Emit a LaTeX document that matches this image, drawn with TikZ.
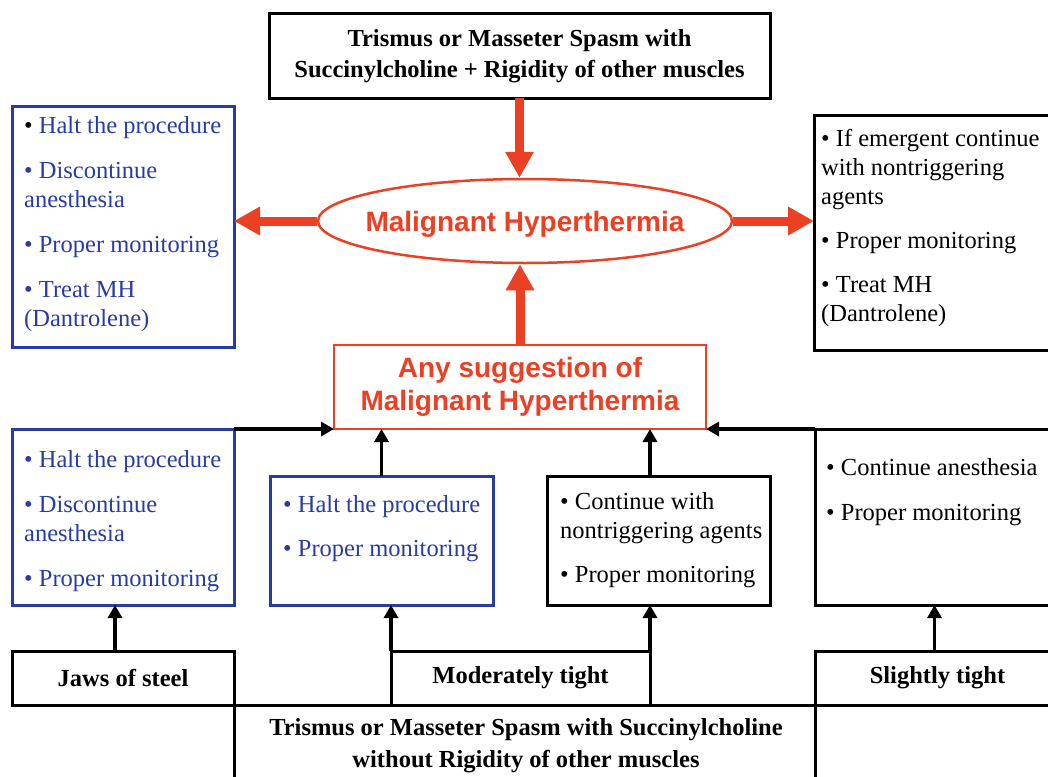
\documentclass[tikz,border=0pt]{standalone}
\usepackage{fontspec}
\setmainfont{Liberation Serif}
\newfontfamily\arialf{Liberation Sans}
\usetikzlibrary{shapes.geometric,arrows.meta}
\definecolor{mhblue}{RGB}{40,60,165}
\definecolor{mhred}{RGB}{236,64,36}
\newcommand\fstrut{\rule{0pt}{20pt}}
\begin{document}
\begin{tikzpicture}[x=1pt,y=-1pt,
  bx/.style={draw, line width=3pt, inner sep=0pt, outer sep=0pt, anchor=north west},
  bbox/.style={bx, draw=black},
  blbox/.style={bx, draw=mhblue},
  boldlab/.style={font=\bfseries\fontsize{24.5}{31}\selectfont, align=center},
  lst/.style={anchor=north west, inner sep=0pt, align=left, font=\fontsize{24.5}{29}\selectfont},
  bluelst/.style={lst, text=mhblue},
  redtxt/.style={text=mhred, font=\arialf\bfseries\fontsize{28}{33}\selectfont, align=center},
  redarr/.style={draw=mhred, line width=9pt, -{Triangle[length=26pt,width=27pt]}},
  blkarr/.style={draw=black, line width=3.5pt, -{Triangle[length=13pt,width=14pt]}}
]
\useasboundingbox (0,0) rectangle (1048,776);
\fill[white] (0,0) rectangle (1048,776);
\clip (0,0) rectangle (1048,776);

% top row
\node[bbox, boldlab, minimum width=501pt, minimum height=84pt] (T) at (269,14)
  {Trismus or Masseter Spasm with\\Succinylcholine + Rigidity of other muscles};
\node[draw=mhred, line width=2.5pt, ellipse, minimum width=414pt, minimum height=84pt, inner sep=0pt] (E) at (525,221) {};
\node[redtxt, text depth=0pt, inner sep=0pt] (Et) at (E.center) {Malignant Hyperthermia};

\node[blbox, minimum width=222pt, minimum height=241pt] (LT) at (12,106) {};
\node[bluelst] (LTt) at (24,113)
  {\fstrut\textcolor{black}{•} Halt the procedure\\[16pt]• Discontinue\\anesthesia\\[16pt]• Proper monitoring\\[16pt]• Treat MH\\(Dantrolene)};

\node[bbox, minimum width=246pt, minimum height=235pt] (RT) at (814,115) {};
\node[lst] (RTt) at (821,126)
  {\fstrut• If emergent continue\\with nontriggering\\agents\\[15pt]• Proper monitoring\\[15pt]• Treat MH\\(Dantrolene)};

% middle
\node[draw=mhred, line width=2.5pt, inner sep=0pt, outer sep=0pt, anchor=north west,
  minimum width=372pt, minimum height=84pt, redtxt] (R) at (334,345)
  {Any suggestion of\\Malignant Hyperthermia};

\node[blbox, minimum width=222pt, minimum height=176pt] (LB) at (12,429) {};
\node[bluelst] (LBt) at (24,447)
  {\fstrut• Halt the procedure\\[16pt]• Discontinue\\anesthesia\\[16pt]• Proper monitoring};

\node[blbox, minimum width=223pt, minimum height=129pt] (MB) at (270,476) {};
\node[bluelst] (MBt) at (283,492)
  {\fstrut• Halt the procedure\\[15pt]• Proper monitoring};

\node[bbox, minimum width=223pt, minimum height=129pt] (MK) at (547,476) {};
\node[lst] (MKt) at (560,489)
  {\fstrut• Continue with\\nontriggering agents\\[15pt]• Proper monitoring};

\node[bbox, minimum width=245pt, minimum height=176pt] (RB) at (815,429) {};
\node[lst] (RBt) at (826,455)
  {\fstrut• Continue anesthesia\\[16pt]• Proper monitoring};

% bottom
\node[bbox, boldlab, minimum width=222pt, minimum height=54pt] (J) at (12,651) {Jaws of steel};
\node[bbox, boldlab, minimum width=259pt, minimum height=54pt] (M) at (391,651) {Moderately tight};
\node[bbox, boldlab, minimum width=245pt, minimum height=54pt] (S) at (815,651) {Slightly tight};
\node[bbox, minimum width=581pt, minimum height=100pt] (B) at (234,705) {};
\node[boldlab, font=\bfseries\fontsize{24.5}{32}\selectfont, anchor=north, inner sep=0pt] (Bt) at (526,715)
  {\fstrut Trismus or Masseter Spasm with Succinylcholine\\without Rigidity of other muscles};

% red arrows
\draw[redarr] (T.south) -- (T.south |- E.north);
\draw[redarr] (R.north) -- (R.north |- E.south);
\draw[redarr] (E.west) -- (E.west -| LT.east);
\draw[redarr] (E.east) -- (E.east -| RT.west);

% black arrows
\draw[blkarr] (LB.north east) -- (R.south west);
\draw[blkarr] (RB.north west) -- (R.south east);
\draw[blkarr] (MB.north) -- (MB.north |- R.south);
\draw[blkarr] (M.north east |- MK.north) -- (M.north east |- R.south);
\draw[blkarr] (M.north west) -- (M.north west |- MB.south);
\draw[blkarr] (M.north east) -- (M.north east |- MK.south);
\draw[blkarr] ([xshift=-8pt]J.north) -- ([xshift=-8pt]J.north |- LB.south);
\draw[blkarr] ([xshift=-3pt]S.north) -- ([xshift=-3pt]S.north |- RB.south);
\end{tikzpicture}
\end{document}
